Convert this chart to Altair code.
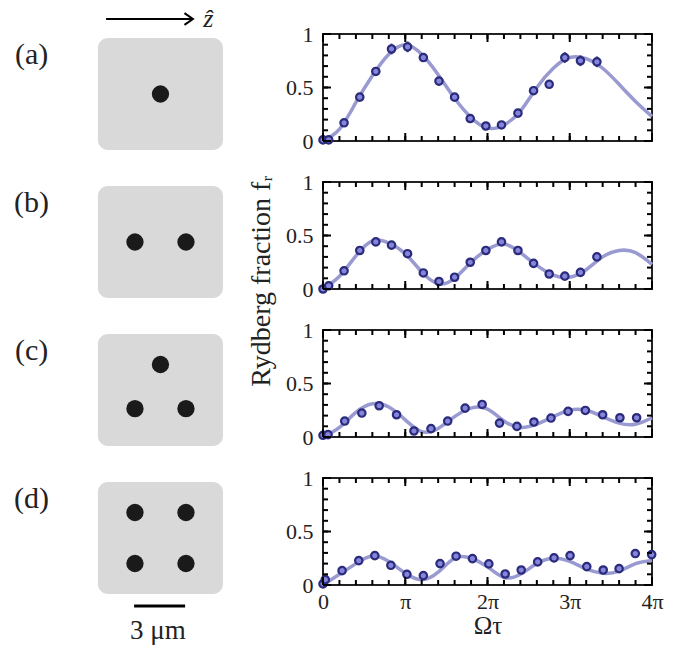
import altair as alt
import pandas as pd

SERIF = "Liberation Serif"
CURVE = "#9a9ad2"
DARK = "#2b2b7c"
LIGHT = "#8585dc"

# ---------------- measured data (x in units of pi) ----------------
a_x = [0.0, 0.069, 0.256, 0.447, 0.642, 0.833, 1.028, 1.22, 1.41, 1.60, 1.79, 1.98, 2.17, 2.37, 2.56, 2.75, 2.94, 3.13, 3.33]
a_y = [0.01, 0.01, 0.17, 0.41, 0.65, 0.86, 0.88, 0.78, 0.56, 0.41, 0.21, 0.14, 0.15, 0.26, 0.47, 0.53, 0.78, 0.75, 0.74]
a_e = [0.01, 0.01, 0.02, 0.02, 0.03, 0.05, 0.05, 0.04, 0.04, 0.03, 0.02, 0.02, 0.02, 0.02, 0.04, 0.03, 0.05, 0.05, 0.05]

b_x = [0.0, 0.069, 0.256, 0.447, 0.642, 0.833, 1.028, 1.22, 1.41, 1.60, 1.79, 1.98, 2.17, 2.37, 2.56, 2.75, 2.94, 3.13, 3.33]
b_y = [0.0, 0.03, 0.17, 0.36, 0.44, 0.41, 0.33, 0.15, 0.07, 0.11, 0.25, 0.36, 0.44, 0.36, 0.24, 0.14, 0.12, 0.155, 0.30]
b_e = [0.01, 0.01, 0.02, 0.02, 0.02, 0.02, 0.02, 0.02, 0.02, 0.02, 0.02, 0.02, 0.02, 0.02, 0.02, 0.02, 0.02, 0.02, 0.02]

c_x = [0.0, 0.061, 0.264, 0.472, 0.683, 0.894, 1.106, 1.313, 1.516, 1.728, 1.935, 2.146, 2.358, 2.565, 2.772, 2.98, 3.19, 3.40, 3.61, 3.813]
c_y = [0.016, 0.022, 0.149, 0.224, 0.292, 0.208, 0.056, 0.078, 0.149, 0.270, 0.304, 0.130, 0.099, 0.140, 0.177, 0.239, 0.248, 0.208, 0.180, 0.180]
c_e = [0.01, 0.01, 0.02, 0.02, 0.02, 0.02, 0.02, 0.02, 0.02, 0.02, 0.02, 0.02, 0.02, 0.02, 0.02, 0.02, 0.02, 0.02, 0.02, 0.02]

d_x = [0.0, 0.028, 0.232, 0.435, 0.63, 0.825, 1.02, 1.22, 1.423, 1.618, 1.817, 2.016, 2.215, 2.41, 2.61, 2.809, 3.004, 3.207, 3.407, 3.6, 3.797, 3.996]
d_y = [0.01, 0.05, 0.134, 0.228, 0.275, 0.184, 0.10, 0.088, 0.20, 0.269, 0.247, 0.197, 0.103, 0.14, 0.216, 0.253, 0.275, 0.172, 0.14, 0.153, 0.294, 0.284]
d_e = [0.01, 0.02, 0.02, 0.03, 0.04, 0.03, 0.02, 0.02, 0.03, 0.04, 0.03, 0.03, 0.02, 0.02, 0.03, 0.04, 0.04, 0.02, 0.02, 0.03, 0.04, 0.04]

curve_x = [0.0, 0.2, 0.4, 0.6, 0.8, 1.0, 1.2, 1.4, 1.6, 1.8, 2.0, 2.2, 2.4, 2.6, 2.8, 3.0, 3.2, 3.4, 3.6, 3.8, 4.0]
curve_a = [0.0, 0.11, 0.36, 0.61, 0.81, 0.90, 0.81, 0.62, 0.40, 0.22, 0.12, 0.15, 0.28, 0.50, 0.68, 0.78, 0.77, 0.68, 0.53, 0.37, 0.23]
curve_b = [0.0, 0.12, 0.31, 0.45, 0.43, 0.33, 0.16, 0.05, 0.10, 0.25, 0.37, 0.42, 0.34, 0.22, 0.13, 0.11, 0.18, 0.30, 0.36, 0.34, 0.23]
curve_c = [0.0, 0.09, 0.23, 0.31, 0.28, 0.16, 0.05, 0.08, 0.19, 0.27, 0.26, 0.15, 0.09, 0.12, 0.19, 0.25, 0.25, 0.19, 0.13, 0.12, 0.18]
curve_d = [0.0, 0.10, 0.20, 0.27, 0.22, 0.11, 0.05, 0.12, 0.25, 0.25, 0.17, 0.07, 0.10, 0.20, 0.25, 0.22, 0.15, 0.11, 0.13, 0.20, 0.23]

x_major = [0, 1, 2, 3, 4]
x_minor = [0.0, 0.2, 0.4, 0.6, 0.8, 1.0, 1.2, 1.4, 1.6, 1.8, 2.0, 2.2, 2.4, 2.6, 2.8, 3.0, 3.2, 3.4, 3.6, 3.8, 4.0]
y_major = [0, 0.5, 1]
y_minor = [0.0, 0.1, 0.2, 0.3, 0.4, 0.5, 0.6, 0.7, 0.8, 0.9, 1.0]

# ---------------- schematic data (micrometres) ----------------
panel_labels = ["(a)", "(b)", "(c)", "(d)"]
atoms_dx = [[0.0], [-1.5, 1.5], [0.0, -1.5, 1.5], [-1.5, 1.5, -1.5, 1.5]]
atoms_dy = [[0.0], [0.0, 0.0], [-1.5, 1.1, 1.1], [-1.5, -1.5, 1.5, 1.5]]
scale_bar_um = 3.0

W, H = 329, 107
GAP = 41


def panel(px, py, pe, cy, bottom):
    pts = pd.DataFrame({"x": px, "y": py,
                        "lo": [v - e for v, e in zip(py, pe)],
                        "hi": [v + e for v, e in zip(py, pe)]})
    crv = pd.DataFrame({"x": curve_x, "y": cy})
    xs = alt.Scale(domain=[0, 4], nice=False, zero=False)
    ys = alt.Scale(domain=[0, 1], nice=False, zero=False)
    if bottom:
        xax = alt.Axis(values=x_major, ticks=False, domain=False, grid=False, labelFlush=False,
                       labelExpr="datum.value == 0 ? '0' : (datum.value == 1 ? 'π' : datum.value + 'π')",
                       labelPadding=6, labelFontSize=22, labelFont=SERIF, labelColor="#222",
                       title="Ωτ", titleFontSize=25, titleFont=SERIF, titleFontWeight="normal",
                       titlePadding=1, titleColor="#222")
    else:
        xax = None
    yax = alt.Axis(values=y_major, format="~g", ticks=False, domain=False, grid=False, labelFlush=False,
                   labelPadding=10, labelFontSize=22, labelFont=SERIF, labelColor="#222",
                   title=None)

    def X(f="x"):
        return alt.X(f + ":Q", scale=xs, axis=xax)

    def Y(f="y"):
        return alt.Y(f + ":Q", scale=ys, axis=yax)

    line = alt.Chart(crv).mark_line(interpolate="natural", color=CURVE, strokeWidth=3.5).encode(x=X(), y=Y())
    err = alt.Chart(pts).mark_rule(color=DARK, strokeWidth=2).encode(x=X(), y=Y("lo"), y2="hi:Q")
    dots = alt.Chart(pts).mark_point(shape="circle", filled=True, fill=LIGHT, stroke=DARK,
                                     strokeWidth=2.2, size=55, opacity=1).encode(x=X(), y=Y())

    xmin = pd.DataFrame({"x": x_minor})
    xmaj = pd.DataFrame({"x": x_major})
    ymin = pd.DataFrame({"y": y_minor})
    ymaj = pd.DataFrame({"y": y_major})
    tk = dict(color="black", opacity=1, thickness=2)
    layers = [line, err, dots]
    for df, ln in ((xmin, 5), (xmaj, 8)):
        layers.append(alt.Chart(df).mark_tick(orient="vertical", size=ln, yOffset=ln / 2, **tk)
                      .encode(x=X(), y=alt.value(0)))
        layers.append(alt.Chart(df).mark_tick(orient="vertical", size=ln, yOffset=-ln / 2, **tk)
                      .encode(x=X(), y=alt.value(H)))
    for df, ln in ((ymin, 5), (ymaj, 8)):
        layers.append(alt.Chart(df).mark_tick(orient="horizontal", size=ln, xOffset=ln / 2, **tk)
                      .encode(y=Y(), x=alt.value(0)))
        layers.append(alt.Chart(df).mark_tick(orient="horizontal", size=ln, xOffset=-ln / 2, **tk)
                      .encode(y=Y(), x=alt.value(W)))
    return alt.layer(*layers).properties(
        width=W, height=H, view=alt.ViewBackground(stroke="#222", strokeWidth=2))


right = alt.vconcat(
    panel(a_x, a_y, a_e, curve_a, False),
    panel(b_x, b_y, b_e, curve_b, False),
    panel(c_x, c_y, c_e, curve_c, False),
    panel(d_x, d_y, d_e, curve_d, True),
    spacing=GAP, bounds="flush")

# ---------------- schematic (left) in micrometres ----------------
S = 17.0                     # pixels per micrometre
LW = 322
LH = 4 * H + 3 * GAP
pitch = (H + GAP) / S        # row pitch in um
cx = 9.38
cy0 = 60 / S
half_w, half_h = 3.68, 3.29

sq = pd.DataFrame({
    "x": [cx - half_w] * 4, "x2": [cx + half_w] * 4,
    "y": [cy0 + i * pitch - half_h for i in range(4)],
    "y2": [cy0 + i * pitch + half_h for i in range(4)]})
ax_, ay_ = [], []
for i in range(4):
    for dx, dy in zip(atoms_dx[i], atoms_dy[i]):
        ax_.append(cx + dx)
        ay_.append(cy0 + i * pitch + dy)
atoms = pd.DataFrame({"x": ax_, "y": ay_})
labs = pd.DataFrame({"x": [1.8] * 4, "y": [cy0 + i * pitch - 2.3 for i in range(4)], "t": panel_labels})

ux = alt.Scale(domain=[0, LW / S], nice=False, zero=False)
uy = alt.Scale(domain=[0, LH / S], nice=False, zero=False, reverse=True)


def UX(f="x"):
    return alt.X(f + ":Q", scale=ux, axis=None)


def UY(f="y"):
    return alt.Y(f + ":Q", scale=uy, axis=None)


squares = alt.Chart(sq).mark_rect(color="#d9d9d9", cornerRadius=10).encode(
    x=UX(), x2="x2:Q", y=UY(), y2="y2:Q")
dots_l = alt.Chart(atoms).mark_circle(color="#1a1a1a", size=300, opacity=1).encode(x=UX(), y=UY())
labels = alt.Chart(labs).mark_text(font=SERIF, fontSize=30, color="#222").encode(
    x=UX(), y=UY(), text="t:N")

arrow_y = -0.88
arrow = pd.DataFrame({"x": [6.18], "x2": [11.25], "y": [arrow_y]})
arrow_line = alt.Chart(arrow).mark_rule(color="black", strokeWidth=2).encode(x=UX(), x2="x2:Q", y=UY())
arrow_head = alt.Chart(pd.DataFrame({"x": [11.29], "y": [arrow_y]})).mark_point(
    shape="M -1.3 -0.9 L 0 0 L -1.3 0.9", filled=False, color="black", strokeWidth=2,
    size=170, opacity=1).encode(x=UX(), y=UY())
zhat = alt.Chart(pd.DataFrame({"x": [12.2], "y": [arrow_y], "t": ["ẑ"]})).mark_text(
    font=SERIF, fontSize=26, fontStyle="italic", color="#222").encode(x=UX(), y=UY(), text="t:N")

bar = pd.DataFrame({"x": [cx - scale_bar_um / 2 - 0.05], "x2": [cx + scale_bar_um / 2 - 0.05], "y": [33.65]})
bar_line = alt.Chart(bar).mark_rule(color="black", strokeWidth=3).encode(x=UX(), x2="x2:Q", y=UY())
bar_text = alt.Chart(pd.DataFrame({"x": [cx - 0.15], "y": [35.1], "t": ["3 μm"]})).mark_text(
    font=SERIF, fontSize=27, color="#222").encode(x=UX(), y=UY(), text="t:N")

ytitle = alt.Chart(pd.DataFrame({"x": [15.35], "y": [14.53], "t": ["Rydberg fraction fᵣ"]})).mark_text(
    font=SERIF, fontSize=28, angle=270, color="#222").encode(x=UX(), y=UY(), text="t:N")

left = alt.layer(squares, dots_l, labels, arrow_line, arrow_head, zhat, bar_line, bar_text, ytitle).properties(
    width=LW, height=LH, view=alt.ViewBackground(stroke="transparent"))

chart = alt.hconcat(left, right, spacing=0, bounds="flush").properties(
    padding={"top": 5, "left": 0, "right": 0, "bottom": 0},
    background="white")

chart.save("out.html", embed_options={"renderer": "svg", "actions": False})
